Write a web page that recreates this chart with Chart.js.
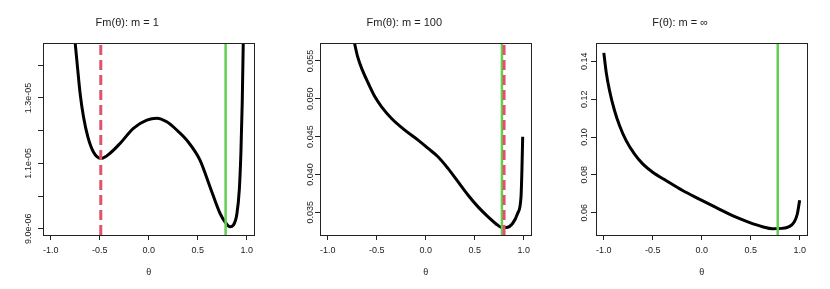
<!DOCTYPE html>
<html>
<head>
<meta charset="utf-8">
<script src="https://cdn.jsdelivr.net/npm/chart.js@4"></script>
<style>
  body { margin: 0; background: #fff; width: 830px; height: 289px; position: relative; overflow: hidden; }
  canvas { position: absolute; top: 0; }
</style>
</head>
<body>
<canvas id="c1" width="277" height="289" style="left:0px"></canvas>
<canvas id="c2" width="277" height="289" style="left:277px"></canvas>
<canvas id="c3" width="277" height="289" style="left:553px"></canvas>
<script>
// shared x axis
const xTicks = [-1, -0.5, 0, 0.5, 1];
const xTickLabels = ['-1.0', '-0.5', '0.0', '0.5', '1.0'];

// panel 1: Fm(theta), m = 1
const theta1 = [-0.76, -0.728, -0.701, -0.667, -0.622, -0.565, -0.487, -0.395, -0.293, -0.157, -0.020, 0.082, 0.184, 0.286, 0.388, 0.523, 0.626, 0.728, 0.779, 0.830, 0.864, 0.900, 0.925, 0.942, 0.955, 0.970];
const fm1 = [14.95e-6, 13.95e-6, 13.14e-6, 12.43e-6, 11.81e-6, 11.35e-6, 11.15e-6, 11.31e-6, 11.61e-6, 12.07e-6, 12.32e-6, 12.38e-6, 12.27e-6, 12.02e-6, 11.71e-6, 11.10e-6, 10.28e-6, 9.47e-6, 9.21e-6, 9.06e-6, 9.11e-6, 9.45e-6, 10.2e-6, 11.4e-6, 12.9e-6, 15.6e-6];
const yTicks1 = [9e-6, 10e-6, 11e-6, 12e-6, 13e-6, 14e-6];
const yTickLabels1 = ['9.0e-06', '', '1.1e-05', '', '1.3e-05', ''];

// panel 2: Fm(theta), m = 100
const theta2 = [-0.735, -0.695, -0.647, -0.586, -0.519, -0.451, -0.349, -0.214, -0.078, 0.024, 0.125, 0.227, 0.329, 0.431, 0.532, 0.634, 0.719, 0.769, 0.820, 0.888, 0.939, 0.973, 0.982, 0.990];
const fm2 = [0.0578, 0.05553, 0.05378, 0.05202, 0.05026, 0.04894, 0.04740, 0.04586, 0.04454, 0.04344, 0.04234, 0.04080, 0.03905, 0.03729, 0.03575, 0.03443, 0.03346, 0.03302, 0.03298, 0.03355, 0.03487, 0.03707, 0.0405, 0.04498];
const yTicks2 = [0.035, 0.040, 0.045, 0.050, 0.055];
const yTickLabels2 = ['0.035', '0.040', '0.045', '0.050', '0.055'];

// panel 3: F(theta), m = infinity
const theta3 = [-1.0, -0.976, -0.942, -0.891, -0.840, -0.772, -0.688, -0.603, -0.501, -0.365, -0.195, -0.025, 0.144, 0.314, 0.484, 0.620, 0.722, 0.823, 0.891, 0.942, 0.976, 1.0];
const f3 = [0.1445, 0.1343, 0.1246, 0.1140, 0.1061, 0.0981, 0.0911, 0.0858, 0.0814, 0.0770, 0.0717, 0.0672, 0.0628, 0.0584, 0.0549, 0.0526, 0.0515, 0.0517, 0.0526, 0.0549, 0.0593, 0.0666];
const yTicks3 = [0.06, 0.08, 0.10, 0.12, 0.14];
const yTickLabels3 = ['0.06', '0.08', '0.10', '0.12', '0.14'];

// vertical reference lines
const greenTheta = [0.785, 0.778, 0.776];
const redTheta = [-0.49, 0.80, null];

const TICK_FONT = { family: '"Liberation Sans", Arial, sans-serif', size: 9 };
const TEXT = '#222';

function measure(labels) {
    const ctx = document.createElement('canvas').getContext('2d');
    ctx.font = '9px "Liberation Sans", Arial, sans-serif';
    return Math.max(...labels.map(l => ctx.measureText(l).width));
}

const boxPlugin = {
    id: 'box',
    afterDatasetsDraw(chart) {
        const a = chart.chartArea;
        const c = chart.ctx;
        c.save();
        c.strokeStyle = TEXT;
        c.lineWidth = 1;
        c.strokeRect(Math.round(a.left) + 0.5, Math.round(a.top) + 0.5, Math.round(a.right) - Math.round(a.left) - 1, Math.round(a.bottom) - Math.round(a.top));
        c.restore();
    }
};

function makePanel(id, title, theta, vals, yMin, yMax, yTicks, yLabels, green, red, labelGap) {
    const pts = theta.map((t, i) => ({ x: t, y: vals[i] }));
    const datasets = [];
    if (red !== null) {
        datasets.push({
            data: [{ x: red, y: yMin }, { x: red, y: yMax }],
            borderColor: '#DF536B', borderWidth: 3, borderDash: [10, 5],
            pointRadius: 0, clip: 0, order: 0
        });
    }
    datasets.push({
        data: [{ x: green, y: yMin }, { x: green, y: yMax }],
        borderColor: '#61D04F', borderWidth: 2.5,
        pointRadius: 0, clip: 0, order: 1
    });
    datasets.push({
        data: pts,
        borderColor: '#000', borderWidth: 3,
        cubicInterpolationMode: 'monotone',
        pointRadius: 0, clip: 0, order: 2
    });

    const tickLen = 5;
    const widest = measure(yLabels);

    return new Chart(document.getElementById(id), {
        type: 'line',
        data: { datasets },
        plugins: [boxPlugin],
        options: {
            responsive: false,
            animation: false,
            layout: { padding: { left: 0, right: 22.5, top: 0, bottom: 0 } },
            plugins: {
                legend: { display: false },
                tooltip: { enabled: false },
                title: {
                    display: true, text: title, color: TEXT,
                    font: { family: '"Liberation Sans", Arial, sans-serif', size: 11, weight: 'normal' },
                    padding: { top: 16, bottom: 13.8 }
                }
            },
            scales: {
                x: {
                    type: 'linear', min: -1.08, max: 1.08,
                    afterBuildTicks: s => { s.ticks = xTicks.map(v => ({ value: v })); },
                    afterFit: s => { s.height = 54; },
                    grid: { drawOnChartArea: false, drawTicks: true, tickLength: tickLen, color: TEXT },
                    border: { display: false },
                    ticks: {
                        color: TEXT, font: TICK_FONT, padding: 5, maxRotation: 0, autoSkip: false,
                        callback: (v, i) => xTickLabels[i]
                    },
                    title: {
                        display: true, text: 'θ', color: TEXT,
                        font: { family: '"Liberation Sans", Arial, sans-serif', size: 9 },
                        padding: { top: 11, bottom: 11 }
                    }
                },
                y: {
                    type: 'linear', min: yMin, max: yMax,
                    afterBuildTicks: s => { s.ticks = yTicks.map(v => ({ value: v })); },
                    afterFit: s => { s.width = 43; },
                    grid: { drawOnChartArea: false, drawTicks: true, tickLength: tickLen, color: TEXT },
                    border: { display: false },
                    ticks: {
                        color: TEXT, font: TICK_FONT, autoSkip: false,
                        minRotation: 90, maxRotation: 90, crossAlign: 'center',
                        padding: labelGap - tickLen - widest / 2,
                        callback: (v, i) => yLabels[i]
                    }
                }
            }
        }
    });
}

makePanel('c1', 'Fm(θ): m = 1', theta1, fm1, 8.81e-6, 1.468e-5, yTicks1, yTickLabels1, greenTheta[0], redTheta[0], 14);
makePanel('c2', 'Fm(θ): m = 100', theta2, fm2, 0.0320, 0.05737, yTicks2, yTickLabels2, greenTheta[1], redTheta[1], 9.6);
makePanel('c3', 'F(θ): m = ∞', theta3, f3, 0.0482, 0.1497, yTicks3, yTickLabels3, greenTheta[2], redTheta[2], 11);
</script>
</body>
</html>
